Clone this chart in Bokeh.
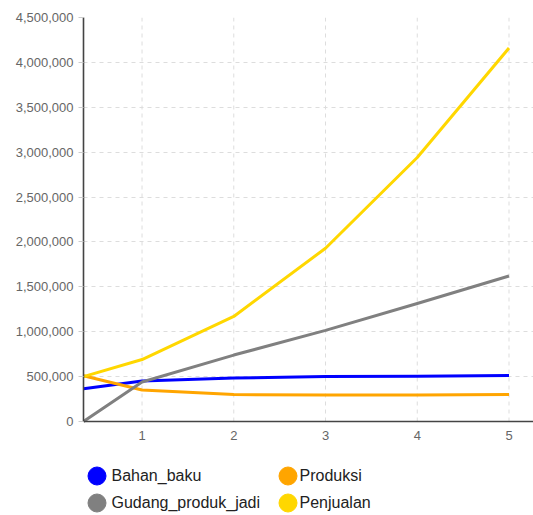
from bokeh.plotting import figure
from bokeh.models import (ColumnDataSource, Legend, LegendItem, FixedTicker,
                          NumeralTickFormatter, Range1d)
from bokeh.embed import file_html
from bokeh.resources import INLINE

# ---- data ----
x_vals = [0.362, 1, 2, 3, 4, 5]
bahan_baku = [365000, 450000, 485000, 500000, 505000, 513000]
produksi = [510000, 350000, 300000, 295000, 295000, 300000]
gudang_produk_jadi = [0, 440000, 740000, 1015000, 1315000, 1620000]
penjualan = [500000, 690000, 1170000, 1930000, 2940000, 4160000]

series_names = ["Bahan_baku", "Produksi", "Gudang_produk_jadi", "Penjualan"]
series_colors = ["#0000FF", "#FFA500", "#808080", "#FFD700"]
x_ticks = [1, 2, 3, 4, 5]
y_ticks = [0, 500000, 1000000, 1500000, 2000000, 2500000, 3000000,
           3500000, 4000000, 4500000]
y_max = 4500000

FONT = "Liberation Sans"
NAN = float("nan")

src = ColumnDataSource(dict(x=x_vals, Bahan_baku=bahan_baku, Produksi=produksi,
                            Gudang_produk_jadi=gudang_produk_jadi,
                            Penjualan=penjualan))

# frame spans down to the canvas bottom so the legend can sit inside it;
# the value axis occupies y in [0, y_max] (17px .. 421px)
y_bottom = -y_max * (515 - 421) / (421 - 17)
p = figure(width=533, height=515, output_backend="svg", toolbar_location=None,
           x_range=Range1d(0.362, 5.267), y_range=Range1d(y_bottom, y_max),
           min_border_left=83, min_border_right=0, min_border_top=17,
           min_border_bottom=0)
p.outline_line_color = None
p.background_fill_color = "white"
p.border_fill_color = "white"

# grid: horizontal lines from the grid, vertical ones limited to [0, y_max]
p.ygrid.ticker = FixedTicker(ticks=y_ticks)
p.ygrid.grid_line_color = "#dddddd"
p.ygrid.grid_line_dash = "4 4"
p.ygrid.grid_line_width = 1
p.xgrid.visible = False
p.segment(x0=x_ticks, y0=[0] * len(x_ticks), x1=x_ticks, y1=[y_max] * len(x_ticks),
          line_color="#dddddd", line_dash="4 4", line_width=1, level="underlay")

# axes
p.xaxis.ticker = FixedTicker(ticks=x_ticks)
p.xaxis.fixed_location = 0
p.yaxis.ticker = FixedTicker(ticks=y_ticks)
p.yaxis.bounds = (0, y_max)
p.yaxis.formatter = NumeralTickFormatter(format="0,0")
for ax in (p.xaxis, p.yaxis):
    ax.axis_line_color = "#444444"
    ax.axis_line_width = 1.6
    ax.major_label_text_font = FONT
    ax.major_label_text_font_size = "13px"
    ax.major_label_text_color = "#666666"
    ax.minor_tick_line_color = None
    ax.major_tick_line_color = "#cccccc"
p.xaxis.major_tick_out = 0
p.xaxis.major_tick_in = 0
p.xaxis.major_label_standoff = 9
p.yaxis.major_tick_out = 5
p.yaxis.major_tick_in = 0
p.yaxis.major_label_standoff = 5

# lines
draw_order = ["Bahan_baku", "Produksi", "Gudang_produk_jadi", "Penjualan"]
for name in draw_order:
    c = series_colors[series_names.index(name)]
    p.line("x", name, source=src, line_color=c, line_width=3, line_join="round")

# legend: round dots (one legend per row) + labels (one 2-column legend)
dots = {}
for name, c in zip(series_names, series_colors):
    dots[name] = p.scatter(x=[NAN], y=[NAN], marker="circle", size=18,
                           fill_color=c, line_color=c)
blank = p.scatter(x=[NAN], y=[NAN], marker="circle", size=1, alpha=0)

common = dict(padding=0, margin=0, border_line_color=None, background_fill_alpha=0,
              label_text_font=FONT, label_text_font_size="16px",
              label_text_color="#222222")

rows = [(["Bahan_baku", "Produksi"], 17.5), (["Gudang_produk_jadi", "Penjualan"], -9.5)]
for names, vy in rows:
    dl = Legend(items=[LegendItem(label=" ", renderers=[dots[n]]) for n in names],
                location=(-9.5, vy), orientation="horizontal",
                glyph_width=45, glyph_height=45, label_height=19, label_width=146,
                label_standoff=0, spacing=0, **common)
    p.add_layout(dl, "center")

legend_order = ["Bahan_baku", "Gudang_produk_jadi", "Produksi", "Penjualan"]
legend = Legend(items=[LegendItem(label=n, renderers=[blank]) for n in legend_order],
                location=(12.5, 3), orientation="vertical", ncols=2,
                glyph_width=1, glyph_height=19, label_height=19, label_width=164,
                label_standoff=15, spacing=8, **common)
p.add_layout(legend, "center")

open("out.html", "w").write(file_html(p, INLINE))
